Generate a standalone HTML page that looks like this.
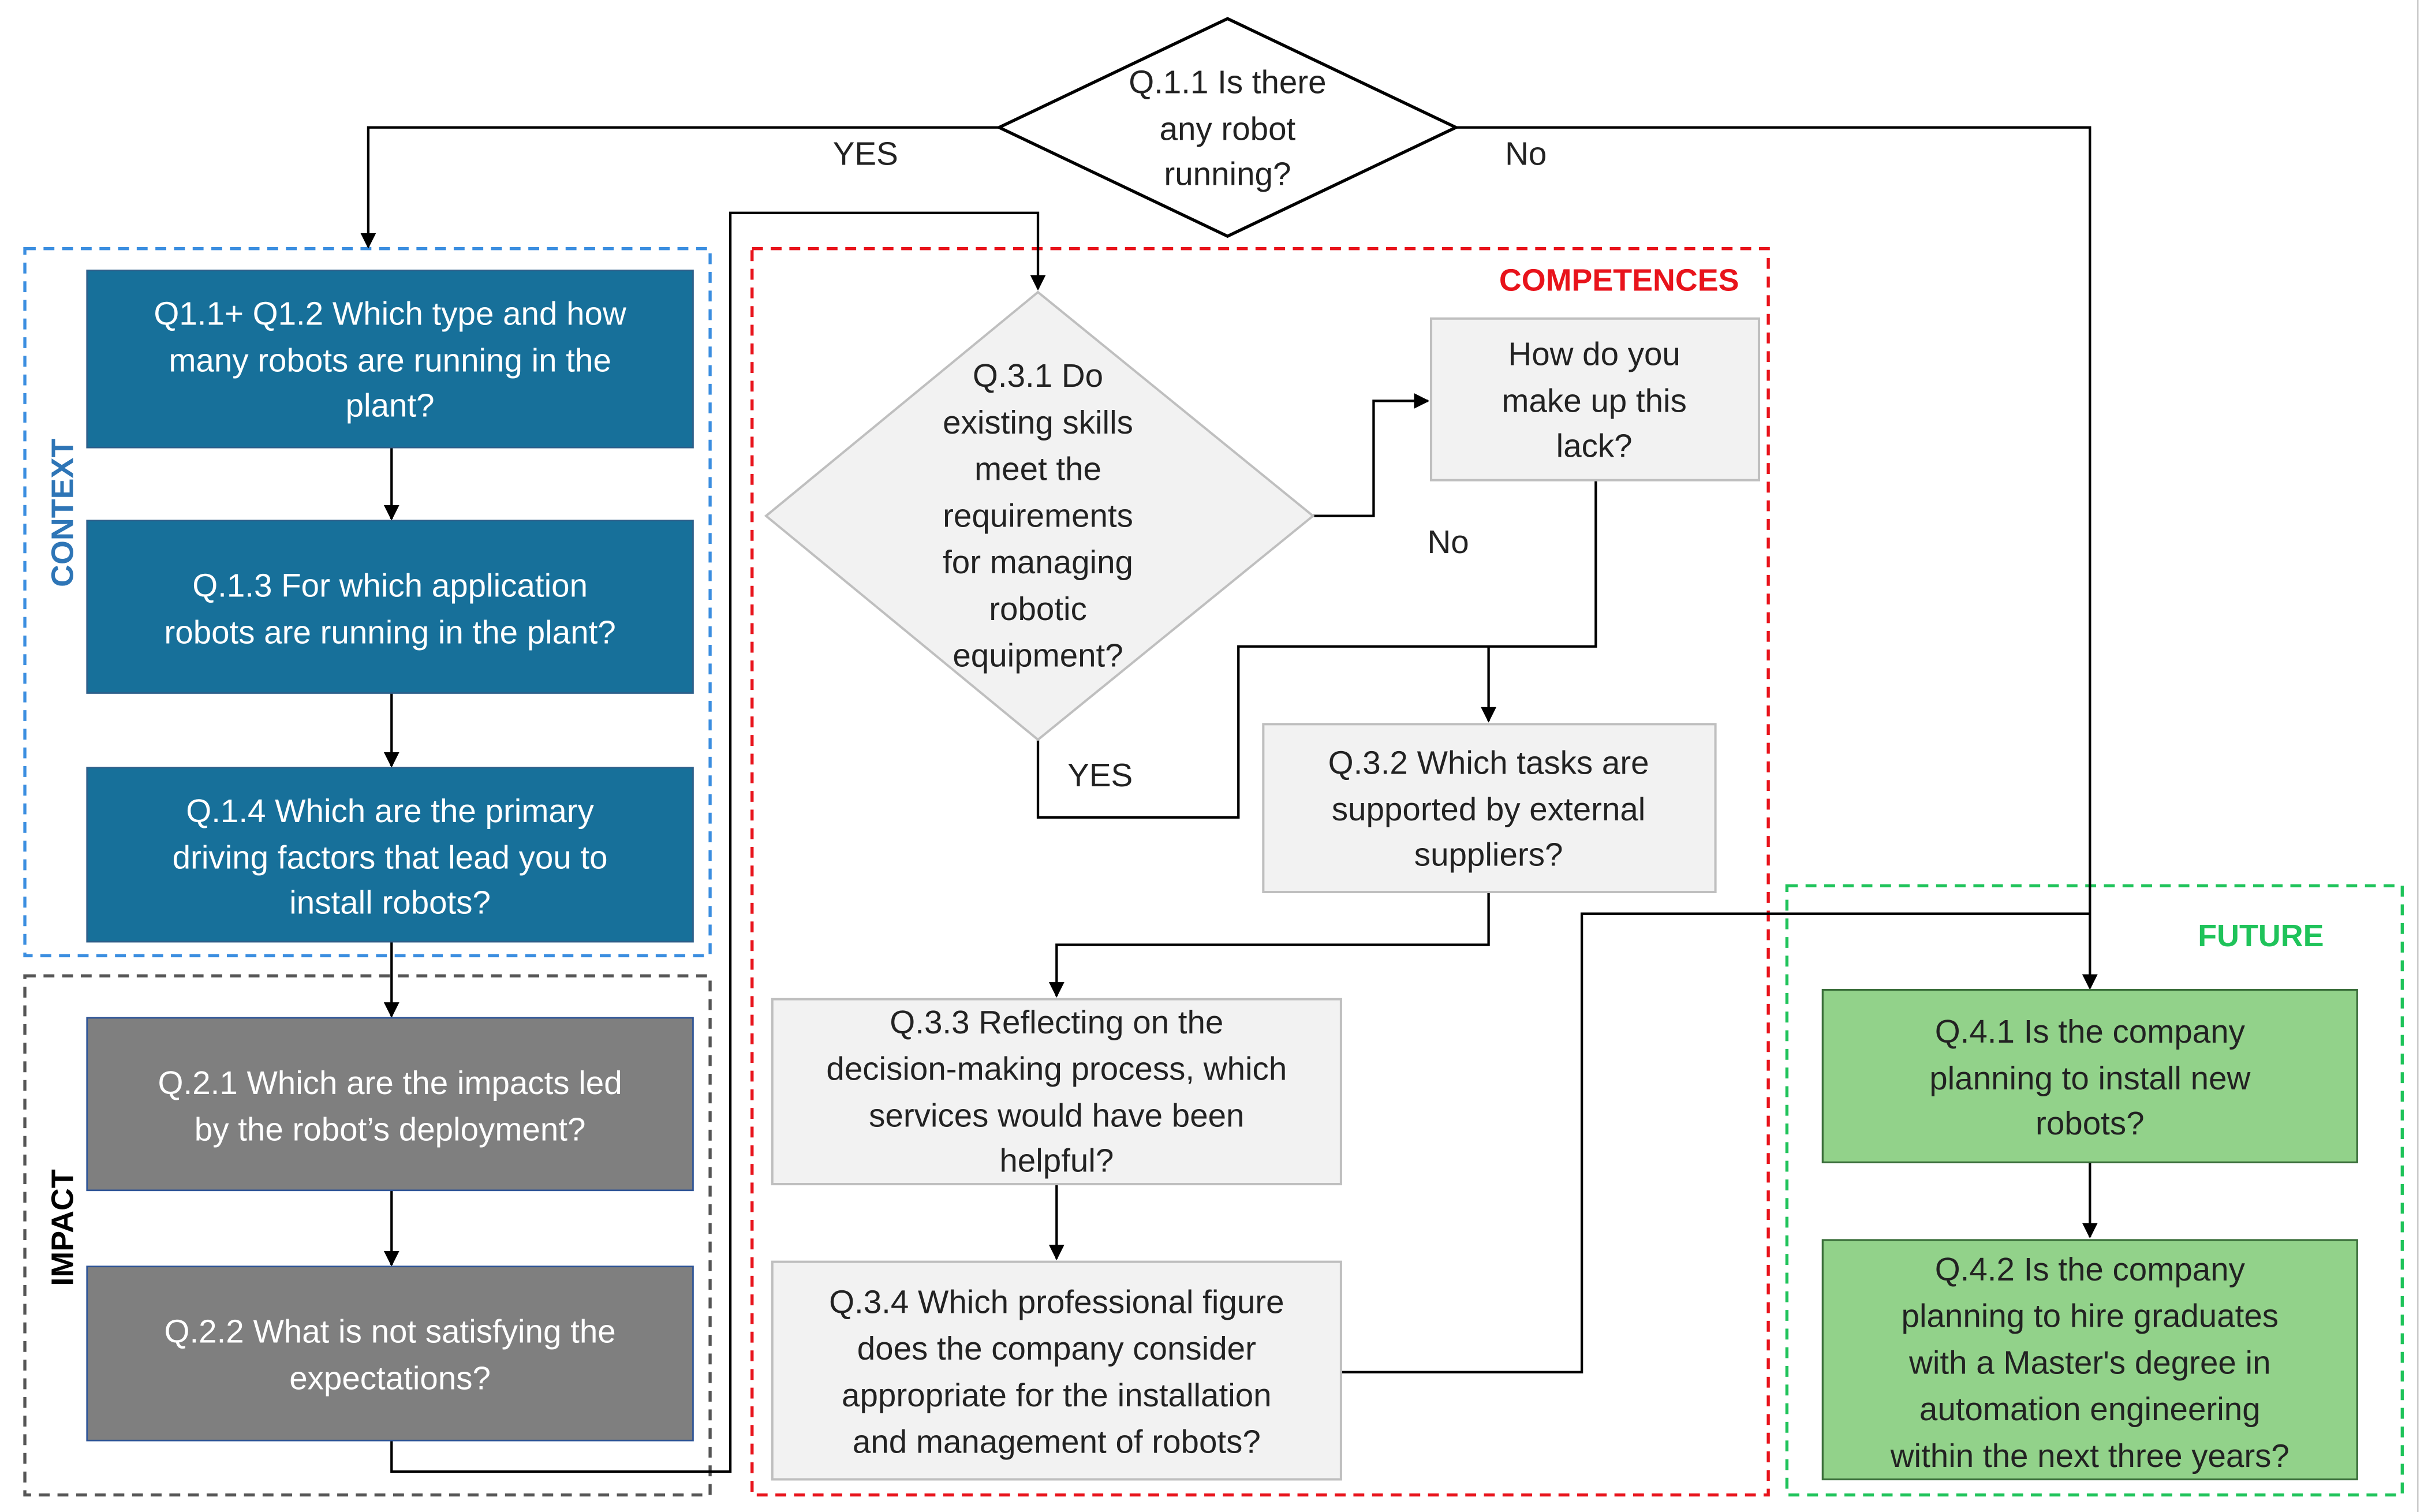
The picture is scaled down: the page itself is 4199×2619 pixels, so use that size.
<!DOCTYPE html>
<html><head><meta charset="utf-8"><style>html,body{margin:0;padding:0;background:#fff;overflow:hidden}svg{display:block}</style></head>
<body>
<svg width="4199" height="2619" viewBox="0 0 1560 973" preserveAspectRatio="none" xmlns="http://www.w3.org/2000/svg" font-family="Liberation Sans, sans-serif">
<defs><marker id="a" markerWidth="10" markerHeight="10" refX="9" refY="5" orient="auto" markerUnits="userSpaceOnUse"><path d="M0,0 L10,5 L0,10 z" fill="#000"/></marker></defs>
<rect width="1560" height="973" fill="#fff"/>
<!-- group boxes -->
<rect x="16" y="160" width="441" height="455" fill="none" stroke="#3b8ee0" stroke-width="2" stroke-dasharray="7,5"/>
<rect x="16" y="628" width="441" height="334" fill="none" stroke="#555" stroke-width="2" stroke-dasharray="7,5"/>
<rect x="484" y="160" width="654" height="802" fill="none" stroke="#e8131b" stroke-width="2" stroke-dasharray="7,5"/>
<rect x="1150" y="570" width="396" height="392" fill="none" stroke="#1fc35a" stroke-width="2" stroke-dasharray="7,5"/>
<line x1="1556" y1="0" x2="1556" y2="973" stroke="#ccc" stroke-width="1"/>
<!-- connectors -->
<g fill="none" stroke="#000" stroke-width="1.6">
<polyline points="643,82 237,82 237,159" marker-end="url(#a)"/>
<polyline points="937,82 1345,82 1345,636" marker-end="url(#a)"/>
<line x1="252" y1="288" x2="252" y2="334" marker-end="url(#a)"/>
<line x1="252" y1="446" x2="252" y2="493" marker-end="url(#a)"/>
<line x1="252" y1="606" x2="252" y2="654" marker-end="url(#a)"/>
<line x1="252" y1="766" x2="252" y2="814" marker-end="url(#a)"/>
<polyline points="252,927 252,947 470,947 470,137 668,137 668,186" marker-end="url(#a)"/>
<polyline points="845,332 884,332 884,258 919,258" marker-end="url(#a)"/>
<polyline points="1027,309 1027,416 797,416 797,526 668,526 668,476"/>
<line x1="958" y1="416" x2="958" y2="464" marker-end="url(#a)"/>
<polyline points="958,574 958,608 680,608 680,641" marker-end="url(#a)"/>
<line x1="680" y1="762" x2="680" y2="810" marker-end="url(#a)"/>
<polyline points="863,883 1018,883 1018,588 1345,588"/>
<line x1="1345" y1="748" x2="1345" y2="796" marker-end="url(#a)"/>
</g>
<!-- top diamond -->
<polygon points="790,12 937,82 790,152 643,82" fill="#fff" stroke="#000" stroke-width="2"/>
<g font-size="21" text-anchor="middle" fill="#222">
<text x="790" y="60">Q.1.1 Is there</text><text x="790" y="90">any robot</text><text x="790" y="119">running?</text>
<text x="557" y="106">YES</text><text x="982" y="106">No</text>
<text x="932" y="356">No</text><text x="708" y="506">YES</text>
</g>
<!-- blue boxes -->
<g fill="#17709a" stroke="#2d5f8a" stroke-width="1">
<rect x="56" y="174" width="390" height="114"/><rect x="56" y="335" width="390" height="111"/><rect x="56" y="494" width="390" height="112"/>
</g>
<g fill="#7f7f7f" stroke="#2f5597" stroke-width="1">
<rect x="56" y="655" width="390" height="111"/><rect x="56" y="815" width="390" height="112"/>
</g>
<g font-size="21" text-anchor="middle" fill="#fff">
<text x="251" y="209">Q1.1+ Q1.2 Which type and how</text><text x="251" y="239">many robots are running in the</text><text x="251" y="268">plant?</text>
<text x="251" y="384">Q.1.3 For which application</text><text x="251" y="414">robots are running in the plant?</text>
<text x="251" y="529">Q.1.4 Which are the primary</text><text x="251" y="559">driving factors that lead you to</text><text x="251" y="588">install robots?</text>
<text x="251" y="704">Q.2.1 Which are the impacts led</text><text x="251" y="734">by the robot’s deployment?</text>
<text x="251" y="864">Q.2.2 What is not satisfying the</text><text x="251" y="894">expectations?</text>
</g>
<text transform="translate(47,330) rotate(-90)" font-size="20" font-weight="bold" fill="#2e75b6" text-anchor="middle">CONTEXT</text>
<text transform="translate(47,790) rotate(-90)" font-size="20" font-weight="bold" fill="#000" text-anchor="middle">IMPACT</text>
<text x="1042" y="187" font-size="20" font-weight="bold" fill="#e8131b" text-anchor="middle">COMPETENCES</text>
<text x="1455" y="609" font-size="20" font-weight="bold" fill="#1fc35a" text-anchor="middle">FUTURE</text>
<!-- competences -->
<polygon points="668,188 845,332 668,476 493,332" fill="#f2f2f2" stroke="#bfbfbf" stroke-width="1.5"/>
<g fill="#f2f2f2" stroke="#bfbfbf" stroke-width="1.5">
<rect x="921" y="205" width="211" height="104"/><rect x="813" y="466" width="291" height="108"/>
<rect x="497" y="643" width="366" height="119"/><rect x="497" y="812" width="366" height="140"/>
</g>
<g font-size="21" text-anchor="middle" fill="#222">
<text x="668" y="249">Q.3.1 Do</text><text x="668" y="279">existing skills</text><text x="668" y="309">meet the</text><text x="668" y="339">requirements</text><text x="668" y="369">for managing</text><text x="668" y="399">robotic</text><text x="668" y="429">equipment?</text>
<text x="1026" y="235">How do you</text><text x="1026" y="265">make up this</text><text x="1026" y="294">lack?</text>
<text x="958" y="498">Q.3.2 Which tasks are</text><text x="958" y="528">supported by external</text><text x="958" y="557">suppliers?</text>
<text x="680" y="665">Q.3.3 Reflecting on the</text><text x="680" y="695">decision-making process, which</text><text x="680" y="725">services would have been</text><text x="680" y="754">helpful?</text>
<text x="680" y="845">Q.3.4 Which professional figure</text><text x="680" y="875">does the company consider</text><text x="680" y="905">appropriate for the installation</text><text x="680" y="935">and management of robots?</text>
</g>
<!-- future -->
<g fill="#92d28a" stroke="#3a6e3a" stroke-width="1.2">
<rect x="1173" y="637" width="344" height="111"/><rect x="1173" y="798" width="344" height="154"/>
</g>
<g font-size="21" text-anchor="middle" fill="#222">
<text x="1345" y="671">Q.4.1 Is the company</text><text x="1345" y="701">planning to install new</text><text x="1345" y="730">robots?</text>
<text x="1345" y="824">Q.4.2 Is the company</text><text x="1345" y="854">planning to hire graduates</text><text x="1345" y="884">with a Master's degree in</text><text x="1345" y="914">automation engineering</text><text x="1345" y="944">within the next three years?</text>
</g>
</svg>
</body></html>
